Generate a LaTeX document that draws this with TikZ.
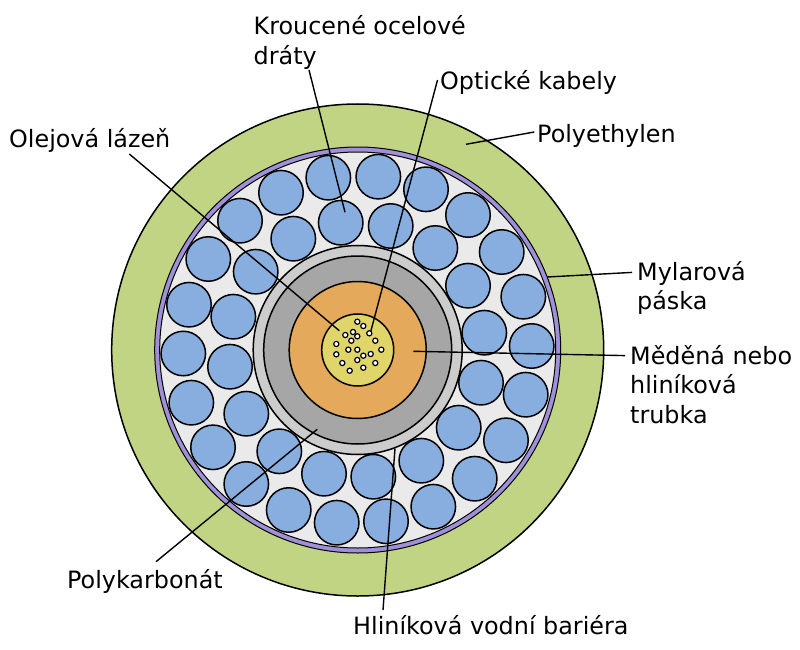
\documentclass[tikz,border=0pt]{standalone}
\usepackage{fontspec}
\setmainfont{DejaVu Sans}
\definecolor{jacket}{HTML}{C1D484}
\definecolor{mylar}{HTML}{A090D8}
\definecolor{oilfill}{HTML}{EAEAEA}
\definecolor{polyc}{HTML}{CCCCCC}
\definecolor{alu}{HTML}{A6A6A6}
\definecolor{copper}{HTML}{E4A95A}
\definecolor{core}{HTML}{E0D568}
\definecolor{wire}{HTML}{88AEE0}
\tikzset{
  ring/.style={circle,draw=black,line width=1.5pt,inner sep=0pt,minimum size=#1},
  thinring/.style={ring=#1,line width=1pt},
  wirebox/.style={circle,draw=black,line width=1.5pt,fill=wire,inner sep=0pt,minimum size=44.5pt},
  fibre/.style={circle,draw=black,line width=1.2pt,fill=white,inner sep=0pt,minimum size=5.2pt},
  lbl/.style={anchor=base west,inner sep=0pt,align=left,font=\fontsize{23.85}{29.5}\selectfont},
  leader/.style={draw=black,line width=1.4pt}
}
\begin{document}
\begin{tikzpicture}[x=1pt,y=-1pt]
\useasboundingbox (0,0) rectangle (800,650);
\fill[white] (0,0) rectangle (800,650);
\node[ring=492pt,fill=jacket] (outer) at (357.7,350) {};
\node[thinring=406pt,fill=mylar] (tape) at (357.7,350) {};
\node[thinring=396pt,fill=oilfill] (oil) at (357.7,350) {};
\foreach \n/\x/\y in {1/281/192.7,2/328.3/177.7,3/340.7/222.7,4/240/220.7,5/293.3/238.7,6/208.3/259,7/255.7/271.7,8/189/304.7,9/233.3/316.7,10/183.3/353.5,
11/378.3/176.7,12/426/189.3,13/390.7/226,14/468/215,15/435.3/248,16/501.7/252,17/468/285.7,18/523.3/296.7,19/484.3/332.7,20/531.7/346,
21/230/366.7,22/191.3/402.7,23/246.3/413.7,24/213/447.3,25/279.3/451.3,26/246.3/484,27/324/473.7,28/288.7/510,29/336.7/522.7,
30/481/382.7,31/525.7/394.7,32/458.7/427.7,33/506/440.3,34/421.3/460.7,35/474.7/478.7,36/373.3/476.7,37/433.3/506.7,38/386/521.3}
  \node[wirebox] (w\n) at (\x,\y) {};
\node[ring=209pt,fill=polyc] (pc) at (357.7,350) {};
\node[ring=188pt,fill=alu] (al) at (357.7,350) {};
\node[ring=137pt,fill=copper] (cu) at (357.7,350) {};
\node[ring=72pt,fill=core] (cr) at (357.7,350) {};
\foreach \n/\x/\y in {1/357.3/321.7,2/363.3/326,3/345.3/335,4/353/332,5/357.3/336.3,6/369.3/333.3,7/351.3/340.7,8/375.3/340.7,9/336.3/344,10/348.3/349.7,11/357.3/349.7,12/381.3/349.7,13/336.3/354.3,14/363.3/355.7,15/370.7/354,16/357.3/360,17/342.3/363,18/375.3/363,19/363.3/367.7,20/349.7/370.7}
  \node[fibre] (f\n) at (\x,\y) {};

\node[lbl] (kroucene) at (253.5,64.5) {Kroucené ocelové\\dráty};
\node[lbl] (opticke) at (440,89.5) {Optické kabely};
\node[lbl] (olej) at (9,147) {Olejová lázeň};
\node[lbl] (polye) at (537,142.5) {Polyethylen};
\node[lbl] (mylarl) at (637,309.5) {Mylarová\\páska};
\node[lbl] (medena) at (630,423) {Měděná nebo\\hliníková\\trubka};
\node[lbl] (polyk) at (67,588.5) {Polykarbonát};
\node[lbl] (hlinik) at (353,634.5) {Hliníková vodní bariéra};

\coordinate (a1) at (309,70);   \coordinate (b1) at (345,212.3);
\coordinate (a2) at (437.5,80); \coordinate (b2) at (370.7,331.7);
\coordinate (a3) at (129.3,154);\coordinate (b3) at (339.3,330.7);
\coordinate (a4) at (534.3,132);\coordinate (b4) at (466,144.3);
\coordinate (a5) at (632,272.4);\coordinate (b5) at (547.3,277);
\coordinate (a6) at (625,355.6);\coordinate (b6) at (413.3,351.3);
\coordinate (a7) at (156,561.7);\coordinate (b7) at (317.3,429.3);
\coordinate (a8) at (383,610);  \coordinate (b8) at (395,448.3);
\foreach \i in {1,...,8} \draw[leader] (a\i) -- (b\i);
\end{tikzpicture}
\end{document}
